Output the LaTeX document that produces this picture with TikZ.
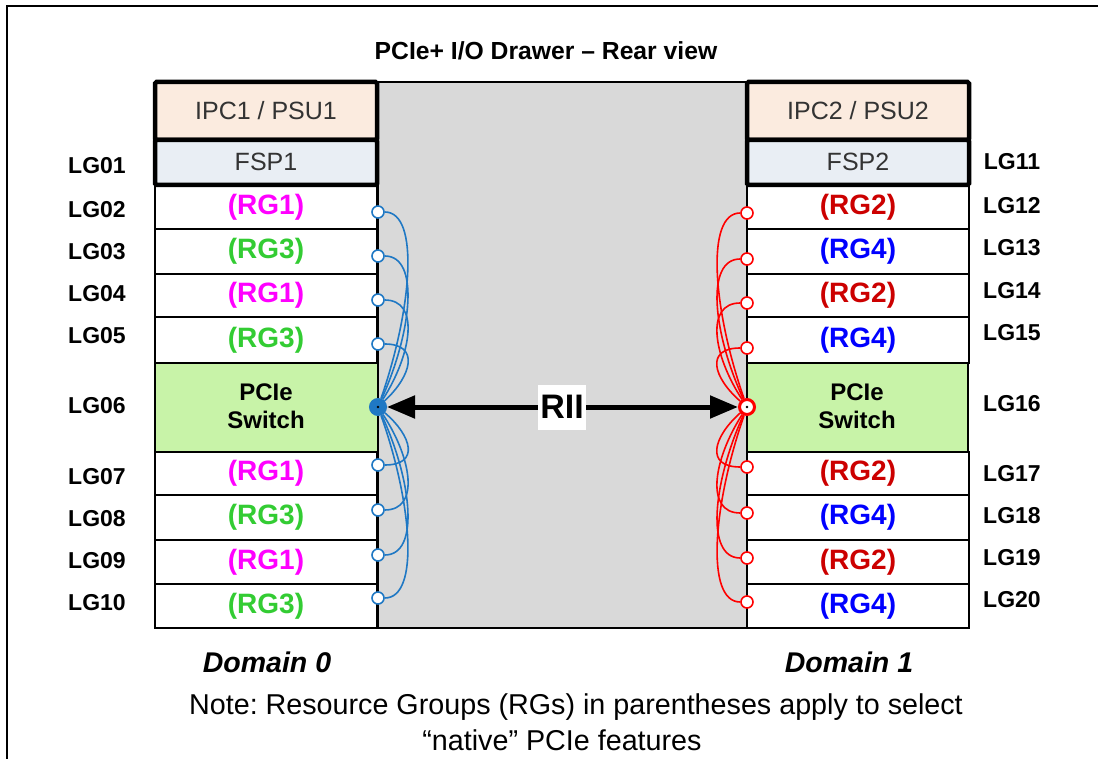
\documentclass[tikz,border=0pt]{standalone}
\usepackage{fontspec}
\setmainfont{Liberation Sans}
\usetikzlibrary{arrows.meta}
\definecolor{rgone}{HTML}{FF00FF}
\definecolor{rgtwo}{HTML}{CC0000}
\definecolor{rgthree}{HTML}{33CC33}
\definecolor{rgfour}{HTML}{0000FF}
\definecolor{linkblue}{HTML}{1F78C4}
\definecolor{linkred}{HTML}{FF0000}
\definecolor{ipcfill}{HTML}{FBEBDF}
\definecolor{fspfill}{HTML}{E9EEF4}
\definecolor{drawergray}{HTML}{D9D9D9}
\definecolor{switchfill}{HTML}{C8F3A8}
\definecolor{boxgray}{HTML}{333333}
\frenchspacing
\newcommand{\fsz}[2]{\fontsize{#1}{#2}\selectfont}
\tikzset{
  lgtext/.style={font=\fsz{23}{25}\bfseries,inner sep=0pt},
  rgtext/.style={font=\fsz{28}{30}\bfseries,inner sep=0pt},
  boxtext/.style={font=\fsz{25}{27},text=boxgray,inner sep=0pt},
  swtext/.style={font=\fsz{24}{28}\bfseries,align=center,inner sep=0pt},
  notetext/.style={font=\fsz{28.7}{33},inner sep=0pt},
  rowline/.style={line width=1.6pt},
  topbox/.style={line width=4.5pt,rounded corners=1.5pt},
  port/.style={circle,draw=#1,line width=1.6pt,fill=white,minimum size=12pt,inner sep=0pt},
  hub/.style={circle,draw=#1,line width=3pt,minimum size=15pt,inner sep=0pt,
    path picture={\fill[black] (path picture bounding box.center) circle (1.3pt);}},
  link/.style={draw=#1,line width=1.6pt},
}
\newcommand{\rgrow}[6]{%
  \draw[rowline,fill=white] (#2,#3) rectangle ({#2+222},#4);
  \node[rgtext,text=#6] (#1) at ({#2+111},{(#3+#4)/2}) {(RG#5)};}
\newcommand{\topboxes}[4]{%
  \draw[topbox,fill=ipcfill] (#1,82) rectangle ({#1+222},140);
  \draw[topbox,fill=fspfill] (#1,140) rectangle ({#1+222},185);
  \node[boxtext] (ipc#2) at ({#1+111},111) {#3};
  \node[boxtext] (fsp#2) at ({#1+111},162) {#4};}
\newcommand{\lgtag}[3]{\node[lgtext] (lg#1) at (#2,#3) {LG#1};}

\begin{document}
\begin{tikzpicture}[x=1pt,y=-1pt]
  \useasboundingbox (0,0) rectangle (1098,759);
  \draw[line width=2pt] (7,759) -- (7,6) -- (1098,6);
  \node[font=\fsz{24.7}{26}\bfseries,inner sep=0pt] (title) at (546,51) {PCIe+ I/O Drawer – Rear view};

  \fill[drawergray] (378,82) rectangle (747,628);
  \draw[line width=1.2pt] (378,82) -- (747,82);

  \foreach \n/\ya/\yb/\g/\col in {2/185/229/1/rgone, 3/229/274/3/rgthree, 4/274/317/1/rgone,
      5/317/363/3/rgthree, 7/452/495/1/rgone, 8/495/540/3/rgthree, 9/540/584/1/rgone,
      10/584/628/3/rgthree}
    {\rgrow{rgl\n}{155}{\ya}{\yb}{\g}{\col}}
  \foreach \n/\ya/\yb/\g/\col in {2/185/229/2/rgtwo, 3/229/274/4/rgfour, 4/274/317/2/rgtwo,
      5/317/363/4/rgfour, 7/452/495/2/rgtwo, 8/495/540/4/rgfour, 9/540/584/2/rgtwo,
      10/584/628/4/rgfour}
    {\rgrow{rgr\n}{747}{\ya}{\yb}{\g}{\col}}

  \draw[rowline,fill=switchfill] (155,363) rectangle (378,452);
  \draw[rowline,fill=switchfill] (747,363) rectangle (968,452);
  \node[swtext] (swl) at (266,406) {PCIe\\Switch};
  \node[swtext] (swr) at (857,406) {PCIe\\Switch};

  \draw[line width=1.6pt] (378,82) -- (378,628) (747,82) -- (747,628);
  \draw[line width=2pt] (155,628) -- (968,628);

  \topboxes{155}{l}{IPC1 / PSU1}{FSP1}
  \topboxes{747}{r}{IPC2 / PSU2}{FSP2}

  \foreach \n/\y in {01/166,02/210,03/252,04/294,05/336,06/406,07/477,08/519,09/561,10/603}
    {\lgtag{\n}{97}{\y}}
  \foreach \n/\y in {11/162,12/206,13/248,14/291,15/333,16/404,17/474,18/516,19/558,20/600}
    {\lgtag{\n}{1012}{\y}}

  \node[hub=linkblue,fill=linkblue] (hubl) at (378,407) {};
  \node[hub=linkred,fill=white] (hubr) at (747,407) {};

  \foreach \n/\p in {1/212,2/256,3/300,4/344,5/465,6/510,7/555,8/598}{
    \node[port=linkblue] (pl\n) at (378,\p) {};
    \draw[link=linkblue] (pl\n) .. controls +(42,0) and +(34,{(\p-407)*0.5}) .. (hubl);}
  \foreach \n/\p in {1/213,2/259,3/303,4/348,5/467,6/513,7/558,8/602}{
    \node[port=linkred] (pr\n) at (747,\p) {};
    \draw[link=linkred] (pr\n) .. controls +(-42,0) and +(-34,{(\p-407)*0.5}) .. (hubr);}

  \draw[line width=5pt,{Triangle[length=28pt,width=22pt]}-{Triangle[length=28pt,width=22pt]}]
    (hubl) -- (hubr);
  \node[fill=white,font=\fsz{34}{36}\bfseries,inner xsep=2pt,minimum height=45pt] (rii) at (562,407) {RII};

  \node[font=\fsz{28.5}{30}\bfseries\itshape,inner sep=0pt] (dom0) at (267,662) {Domain 0};
  \node[font=\fsz{28.5}{30}\bfseries\itshape,inner sep=0pt] (dom1) at (849,662) {Domain 1};
  \node[notetext] (note1) at (576,707) {Note: Resource Groups (RGs) in parentheses apply to select};
  \node[notetext] (note2) at (562,740) {“native” PCIe features};
\end{tikzpicture}
\end{document}
